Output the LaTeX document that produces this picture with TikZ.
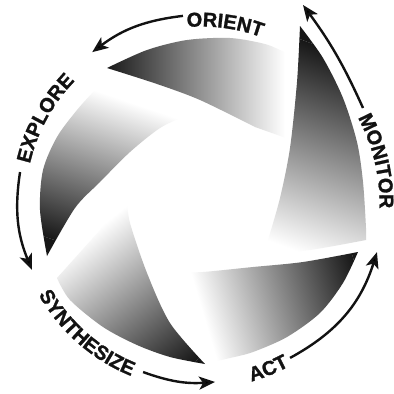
\documentclass[tikz,border=0pt]{standalone}
\usepackage{fontspec}
\setmainfont{Liberation Sans}
\newfontfamily\heavyfont{Liberation Sans}[BoldFeatures={FakeBold=1.3}]
\usetikzlibrary{decorations.text,arrows.meta}
\definecolor{bladedark}{gray}{0.09}
\definecolor{inkc}{gray}{0.07}
\newcommand\lblfont{\heavyfont\fontsize{20}{24}\selectfont\bfseries}
% #1,#2: a point of the white edge (pixels), #3: angle white->dark, #4: length
\newcommand\bladeshade[4]{%
  \begin{scope}[transform canvas={shift={(#1pt,-#2pt)},rotate=#3}]
    \shade[left color=white,right color=bladedark] (0pt,-450pt) rectangle (#4pt,450pt);
    \fill[bladedark] (#4pt,-450pt) rectangle ({#4pt+450pt},450pt);
  \end{scope}}
\tikzset{
  arr/.style={draw=inkc, line width=2.4pt, -{Stealth[length=16pt,width=13pt,inset=4pt]}},
  lbl/.style={decorate, decoration={text along path, text align=center, text color=inkc, text={#1}}},
}
\begin{document}
\begin{tikzpicture}
\useasboundingbox (0pt,0pt) rectangle (394pt,-394pt);
\fill[white] (0pt,0pt) rectangle (394pt,-394pt);
% ---------------- blades (pixel coordinates, y downwards)
\begin{scope}[x=1pt,y=-1pt]
  % ORIENT blade
  \begin{scope}
    \clip plot[smooth] coordinates {(107,68) (147,50) (187,40) (230,38) (265,44) (284,52)}
      -- (286,138)
      -- plot[smooth] coordinates {(255,127) (200,100) (157,84) (107,68)} -- cycle;
    \bladeshade{285}{60}{180}{180}
  \end{scope}
  % MONITOR blade
  \begin{scope}
    \clip plot[smooth] coordinates {(300,26) (323,58) (343,98) (357,142) (363,182) (366,228) (366,240)}
      -- plot[smooth] coordinates {(366,240) (310,250) (263,254)}
      -- plot[smooth] coordinates {(268,240) (280,198) (290,148) (297,82) (300,26)} -- cycle;
    \bladeshade{234}{228}{69.8}{200}
  \end{scope}
  % ACT blade
  \begin{scope}
    \clip plot[smooth] coordinates {(185,272) (203,272) (253,267) (303,262) (358,252)}
      -- plot[smooth] coordinates {(358,252) (343,283) (320,313) (287,337) (253,352) (230,358) (212,362)} -- cycle;
    \bladeshade{199}{301}{16.6}{160}
  \end{scope}
  % SYNTHESIZE blade
  \begin{scope}
    \clip plot[smooth] coordinates {(205,364) (170,357) (137,345) (103,327) (70,300) (57,278)}
      -- plot[smooth] coordinates {(127,200) (130,223) (147,273) (170,323) (205,364)} -- cycle;
    \bladeshade{98}{228}{-51.8}{165}
  \end{scope}
  % EXPLORE blade
  \begin{scope}
    \clip plot[smooth] coordinates {(47,256) (40,210) (43,170) (57,137) (77,110) (95,90)}
      -- (112,82) -- (160,96) -- (192,110)
      -- plot[smooth] coordinates {(185,116) (160,128) (130,152) (100,182) (75,208) (47,256)} -- cycle;
    \bladeshade{80}{85}{-108.8}{155}
  \end{scope}
\end{scope}
% ---------------- labels and arrows (centre of the wheel as origin)
\begin{scope}[shift={(201pt,-203pt)},x=1pt,y=1pt]
  \path[lbl={|\lblfont|ORIENT}] (122.3:176.5) arc[start angle=122.3,end angle=42.3,radius=176.5];
  \path[lbl={|\lblfont|MONITOR}] (58.4:178.5) arc[start angle=58.4,end angle=-31.6,radius=178.5];
  \path[lbl={|\lblfont|EXPLORE}] (196.5:175.5) arc[start angle=196.5,end angle=106.5,radius=175.5];
  \path[lbl={|\lblfont|SYNTHESIZE}] (168.7:186.5) arc[start angle=168.7,end angle=288.7,radius=186.5];
  \path[lbl={|\lblfont|ACT}] (-107.9:185.5) arc[start angle=-107.9,end angle=-27.9,radius=185.5];

  \coordinate (oriA) at (95.5:188);   \coordinate (oriB) at (125.8:186);
  \coordinate (expA) at (170.3:183.6); \coordinate (expB) at (201.6:181.8);
  \coordinate (synA) at (251.1:178.7); \coordinate (synB) at (274.5:179.5);
  \coordinate (actA) at (299.9:178.7); \coordinate (actB) at (344.4:182.7);
  \coordinate (monA) at (162,95);      \coordinate (monB) at (102,198);
  \draw[arr] (oriA) to[bend right=15] (oriB);
  \draw[arr] (expA) to[bend right=15.5] (expB);
  \draw[arr] (synA) to[bend right=12] (synB);
  \draw[arr] (actA) to[bend right=22] (actB);
  \draw[arr] (monA) to[bend right=6] (monB);
\end{scope}
\end{tikzpicture}
\end{document}
